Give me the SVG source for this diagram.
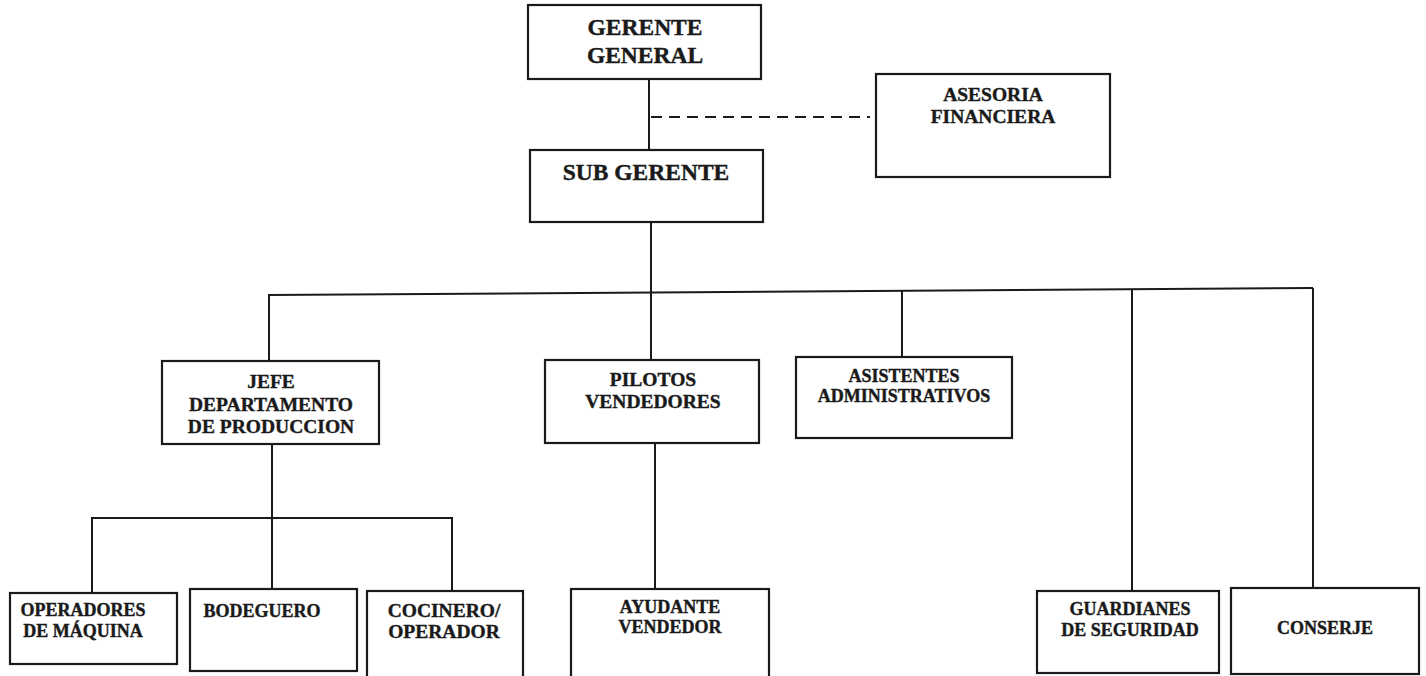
<svg xmlns="http://www.w3.org/2000/svg" width="1426" height="676" viewBox="0 0 1426 676">
<style>
.box{fill:#fff;stroke:#1a1a1a;stroke-width:2.2}
.ln{fill:none;stroke:#1a1a1a;stroke-width:2}
.dash{fill:none;stroke:#1a1a1a;stroke-width:2.2;stroke-dasharray:11 7}
text{font-family:"Liberation Serif","Times New Roman",serif;font-weight:bold;fill:#1a1a1a;stroke:#1a1a1a;stroke-width:0.4;text-anchor:middle}
.t1{font-size:23.5px}
.t2{font-size:19.5px}
.t3{font-size:18px}
</style>
<rect width="1426" height="676" fill="#fff"/>
<g id="connectors">
<line class="ln" x1="649" y1="79" x2="649" y2="150"/>
<line class="dash" x1="651" y1="117" x2="870" y2="117"/>
<line class="ln" x1="651" y1="222" x2="651" y2="360"/>
<line class="ln" x1="268" y1="295" x2="1313" y2="288"/>
<line class="ln" x1="269" y1="295" x2="269" y2="361"/>
<line class="ln" x1="902" y1="291" x2="902" y2="357"/>
<line class="ln" x1="1132" y1="289" x2="1132" y2="591"/>
<line class="ln" x1="1313" y1="288" x2="1313" y2="588"/>
<line class="ln" x1="272" y1="444" x2="272" y2="589"/>
<polyline class="ln" points="92,593 92,518 452,518 452,591"/>
<line class="ln" x1="655" y1="443" x2="655" y2="589"/>
</g>
<g id="gerente-general">
<rect class="box" x="528" y="5" width="233" height="74"/>
<text class="t1" x="645" y="35">GERENTE</text>
<text class="t1" x="645" y="63">GENERAL</text>
</g>
<g id="asesoria-financiera">
<rect class="box" x="876" y="74" width="234" height="103"/>
<text class="t2" x="993" y="101">ASESORIA</text>
<text class="t2" x="993" y="123">FINANCIERA</text>
</g>
<g id="sub-gerente">
<rect class="box" x="530" y="150" width="233" height="72"/>
<text class="t1" x="646" y="180">SUB GERENTE</text>
</g>
<g id="jefe-produccion">
<rect class="box" x="162" y="361" width="217" height="83"/>
<text class="t2" x="271" y="388">JEFE</text>
<text class="t2" x="271" y="411">DEPARTAMENTO</text>
<text class="t2" x="271" y="433">DE PRODUCCION</text>
</g>
<g id="pilotos-vendedores">
<rect class="box" x="545" y="360" width="214" height="83"/>
<text class="t2" x="653" y="386">PILOTOS</text>
<text class="t2" x="653" y="408">VENDEDORES</text>
</g>
<g id="asistentes-administrativos">
<rect class="box" x="796" y="357" width="216" height="81"/>
<text class="t3" x="904" y="382">ASISTENTES</text>
<text class="t3" x="904" y="402">ADMINISTRATIVOS</text>
</g>
<g id="operadores-maquina">
<rect class="box" x="10" y="593" width="167" height="71"/>
<text class="t3" x="83" y="616">OPERADORES</text>
<text class="t3" x="83" y="637">DE MÁQUINA</text>
</g>
<g id="bodeguero">
<rect class="box" x="190" y="589" width="167" height="82"/>
<text class="t3" x="262" y="617">BODEGUERO</text>
</g>
<g id="cocinero-operador">
<rect class="box" x="367" y="591" width="156" height="90"/>
<text class="t2" x="444" y="617">COCINERO/</text>
<text class="t2" x="444" y="638">OPERADOR</text>
</g>
<g id="ayudante-vendedor">
<rect class="box" x="571" y="589" width="198" height="95"/>
<text class="t3" x="670" y="613">AYUDANTE</text>
<text class="t3" x="670" y="633">VENDEDOR</text>
</g>
<g id="guardianes-seguridad">
<rect class="box" x="1037" y="591" width="182" height="82"/>
<text class="t3" x="1130" y="615">GUARDIANES</text>
<text class="t3" x="1130" y="636">DE SEGURIDAD</text>
</g>
<g id="conserje">
<rect class="box" x="1231" y="588" width="188" height="86"/>
<text class="t3" x="1325" y="634">CONSERJE</text>
</g>
</svg>
